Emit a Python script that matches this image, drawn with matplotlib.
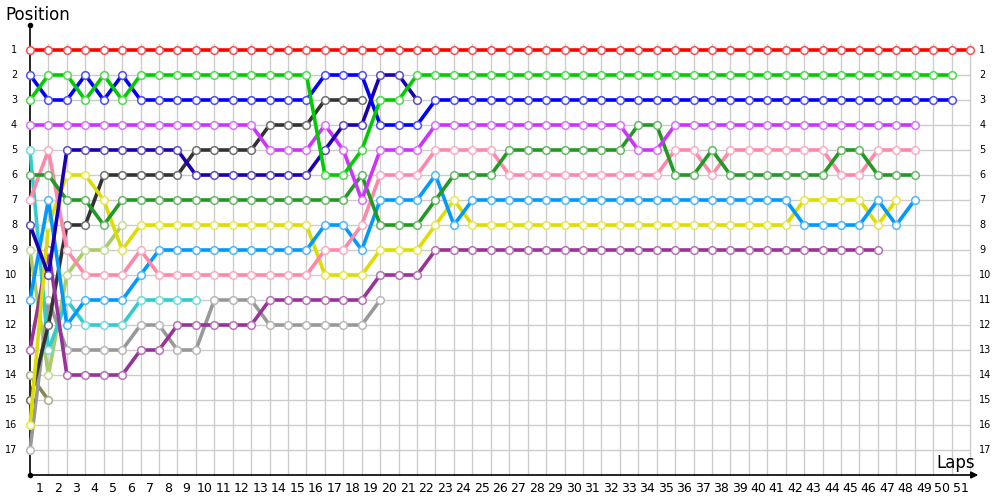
import matplotlib
matplotlib.use("Agg")
from matplotlib import pyplot as plt
from matplotlib import colors as mcolors

laps = list(range(0, 52))

# positions per driver, one value per lap starting from lap 0
red = [1, 1, 1, 1, 1, 1, 1, 1, 1, 1, 1, 1, 1, 1, 1, 1, 1, 1, 1, 1, 1, 1, 1, 1, 1, 1,
       1, 1, 1, 1, 1, 1, 1, 1, 1, 1, 1, 1, 1, 1, 1, 1, 1, 1, 1, 1, 1, 1, 1, 1, 1, 1]
green = [3, 2, 2, 3, 2, 3, 2, 2, 2, 2, 2, 2, 2, 2, 2, 2, 6, 6, 5, 3, 3, 2, 2, 2, 2, 2,
         2, 2, 2, 2, 2, 2, 2, 2, 2, 2, 2, 2, 2, 2, 2, 2, 2, 2, 2, 2, 2, 2, 2, 2, 2]
blue = [2, 3, 3, 2, 3, 2, 3, 3, 3, 3, 3, 3, 3, 3, 3, 3, 2, 2, 2, 4, 4, 4, 3, 3, 3, 3,
        3, 3, 3, 3, 3, 3, 3, 3, 3, 3, 3, 3, 3, 3, 3, 3, 3, 3, 3, 3, 3, 3, 3, 3, 3]
darkblue = [8, 10, 5, 5, 5, 5, 5, 5, 5, 6, 6, 6, 6, 6, 6, 6, 5, 4, 4, 2, 2, 3]
violet = [4, 4, 4, 4, 4, 4, 4, 4, 4, 4, 4, 4, 4, 5, 5, 5, 4, 5, 7, 5, 5, 5, 4, 4, 4,
          4, 4, 4, 4, 4, 4, 4, 4, 5, 5, 4, 4, 4, 4, 4, 4, 4, 4, 4, 4, 4, 4, 4, 4]
darkgreen = [6, 6, 7, 7, 8, 7, 7, 7, 7, 7, 7, 7, 7, 7, 7, 7, 7, 7, 6, 8, 8, 8, 7, 6, 6,
             6, 5, 5, 5, 5, 5, 5, 5, 4, 4, 6, 6, 5, 6, 6, 6, 6, 6, 6, 5, 5, 6, 6, 6]
pink = [7, 5, 9, 10, 10, 10, 9, 10, 10, 10, 10, 10, 10, 10, 10, 10, 9, 9, 8, 6, 6, 6,
        5, 5, 5, 5, 6, 6, 6, 6, 6, 6, 6, 6, 6, 5, 5, 6, 5, 5, 5, 5, 5, 5, 6, 6, 5, 5, 5]
azure = [11, 7, 12, 11, 11, 11, 10, 9, 9, 9, 9, 9, 9, 9, 9, 9, 8, 8, 9, 7, 7, 7, 6, 8,
         7, 7, 7, 7, 7, 7, 7, 7, 7, 7, 7, 7, 7, 7, 7, 7, 7, 7, 8, 8, 8, 8, 7, 8, 7]
yellow = [16, 8, 6, 6, 7, 9, 8, 8, 8, 8, 8, 8, 8, 8, 8, 8, 10, 10, 10, 9, 9, 9, 8, 7,
          8, 8, 8, 8, 8, 8, 8, 8, 8, 8, 8, 8, 8, 8, 8, 8, 8, 8, 7, 7, 7, 7, 8, 7]
purple = [13, 9, 14, 14, 14, 14, 13, 13, 12, 12, 12, 12, 12, 11, 11, 11, 11, 11, 11,
          10, 10, 10, 9, 9, 9, 9, 9, 9, 9, 9, 9, 9, 9, 9, 9, 9, 9, 9, 9, 9, 9, 9, 9,
          9, 9, 9, 9]
darkgray = [15, 12, 8, 8, 6, 6, 6, 6, 6, 5, 5, 5, 5, 4, 4, 4, 3, 3, 3]
cyan = [5, 13, 11, 12, 12, 12, 11, 11, 11, 11]
lightgray = [17, 11, 13, 13, 13, 13, 12, 12, 13, 13, 11, 11, 11, 12, 12, 12, 12, 12, 12, 11]
lightolive = [9, 14, 10, 9, 9, 8]
darkolive = [14, 15]

drivers = [
    (darkolive, "#888855"),
    (lightolive, "#aacc66"),
    (lightgray, "#999999"),
    (cyan, "#33cccc"),
    (darkgray, "#333333"),
    (purple, "#993399"),
    (yellow, "#dddd00"),
    (azure, "#0099ff"),
    (pink, "#ff88aa"),
    (darkgreen, "#229922"),
    (violet, "#cc33ff"),
    (darkblue, "#1a00b0"),
    (blue, "#0000ff"),
    (green, "#00cc00"),
    (red, "#ff0000"),
]

positions = list(range(1, 18))


def lighter(c, amt=0.3):
    r, g, b = mcolors.to_rgb(c)
    return (r + (1 - r) * amt, g + (1 - g) * amt, b + (1 - b) * amt)


fig = plt.figure(figsize=(10, 5), dpi=100)
ax1 = fig.add_axes([0.03, 0.05, 0.94, 0.90])
ax1.set_xlim(0, 51)
ax1.set_ylim(18, 0)
for s in ax1.spines.values():
    s.set_visible(False)
ax1.set_xticks([])
ax1.set_yticks([])

# grid
for lap in laps[1:]:
    ax1.plot([lap, lap], [0.75, 18], color="#cccccc", lw=1, zorder=1, clip_on=False)
for p in positions:
    ax1.plot([0, 51], [p, p], color="#cccccc", lw=1, zorder=1, clip_on=False)

# axes lines
ax1.plot([0, 0], [18, 0], color="black", lw=1.2, zorder=2, clip_on=False)
ax1.plot([0], [0], marker="o", ms=3, color="black", clip_on=False, zorder=2)
ax1.plot([0], [18], marker="o", ms=3, color="black", clip_on=False, zorder=2)
ax1.annotate("", xy=(51.45, 18), xytext=(0, 18),
             arrowprops=dict(arrowstyle="-|>", color="black", lw=1.2,
                             mutation_scale=10, shrinkA=0, shrinkB=0),
             annotation_clip=False, zorder=2)

# series
for i, (pos, col) in enumerate(drivers):
    x = laps[:len(pos)]
    ax1.plot(x, pos, color=col, lw=2.6, solid_joinstyle="round",
             solid_capstyle="round", zorder=3 + i, clip_on=False)
    ax1.plot(x, pos, ls="none", marker="o", ms=5.5, mfc="white",
             mec=lighter(col), mew=1.1, zorder=3 + i, clip_on=False)

# labels
for p in positions:
    ax1.text(-0.7, p, str(p), ha="right", va="center", fontsize=7,
             family="DejaVu Sans", clip_on=False)
    ax1.text(51.5, p, str(p), ha="left", va="center", fontsize=7,
             family="DejaVu Sans", clip_on=False)
for lap in laps[1:]:
    ax1.text(lap - 0.5, 18.55, str(lap), ha="center", va="center", fontsize=9,
             clip_on=False)

fig.text(0.005, 0.97, "Position", ha="left", va="center", fontsize=12)
fig.text(0.975, 0.075, "Laps", ha="right", va="center", fontsize=12)

plt.savefig("out.png", dpi=100)
